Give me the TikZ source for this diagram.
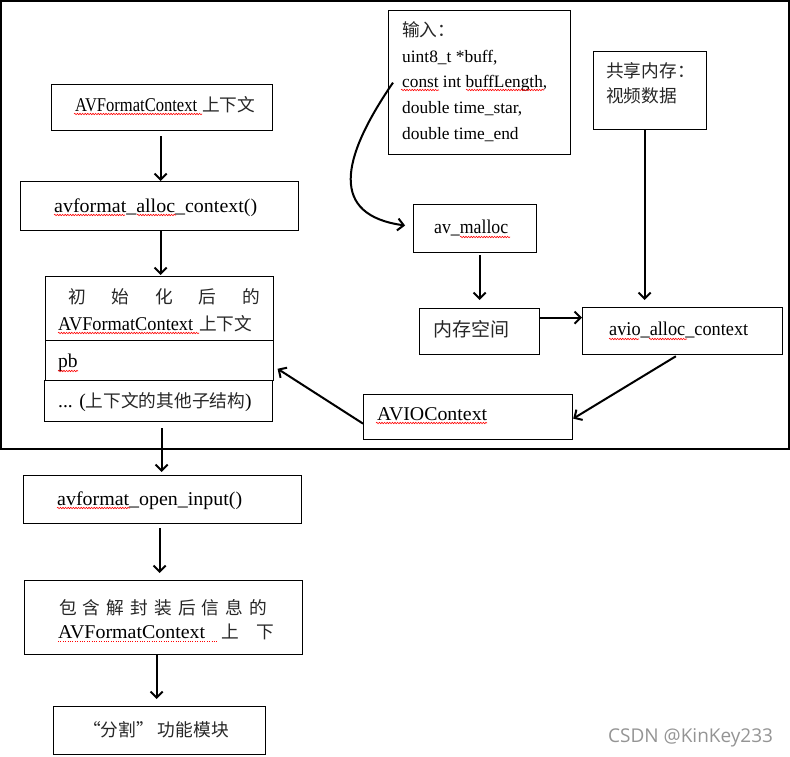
\documentclass[tikz,border=0pt]{standalone}
\usepackage{fontspec}
\usepackage{graphicx}
\setmainfont{Liberation Serif}
\newfontfamily\cjkf{Noto Sans CJK SC}
\newcommand\cjk{\cjkf\fontsize{17.7}{22}\selectfont\color{black!85}}
\newfontfamily\wmfont{Open Sans}
\usetikzlibrary{arrows.meta,decorations.pathmorphing,calc}
\newcommand\zh[1]{{\cjk #1}}
\newcommand\fw[2]{\resizebox{#1}{\height}{#2}}
\begin{document}
\begin{tikzpicture}[x=1pt,y=-1pt,
  box/.style={draw,line width=1.2pt,rectangle,inner sep=0pt,anchor=north west},
  txt/.style={inner sep=0pt,anchor=base west,font=\fontsize{19.5}{22}\selectfont},
  stxt/.style={inner sep=0pt,anchor=base west,font=\fontsize{17.4}{22}\selectfont},
  arr/.style={line width=2pt,-{Straight Barb[length=6pt,width=12pt]}},
  wavy/.style={draw=red,line width=0.6pt,decorate,decoration={snake,amplitude=0.7pt,segment length=2.6pt}},
  dotsred/.style={draw=red,line width=0.8pt,dash pattern=on 0.8pt off 1.6pt}]
\useasboundingbox (0,0) rectangle (790,756);
\draw[line width=1.2pt] (1,1) rectangle (789,449);
% left column
\node[box,minimum width=221pt,minimum height=46pt] (b1) at (51,84) {};
\node[box,minimum width=278pt,minimum height=49pt] (b2) at (20,181) {};
\node[box,minimum width=228pt,minimum height=64pt] (init) at (45,276) {};
\node[box,minimum width=228pt,minimum height=40pt] (pb) at (45,340) {};
\node[box,minimum width=228pt,minimum height=41pt] (dots) at (44,380) {};
\node[box,minimum width=278pt,minimum height=48pt] (open) at (23,475) {};
\node[box,minimum width=278pt,minimum height=74pt] (inc) at (24,580) {};
\node[box,minimum width=212pt,minimum height=48pt] (seg) at (53,706) {};
% right part
\node[box,minimum width=182pt,minimum height=144pt] (inp) at (388,10) {};
\node[box,minimum width=113pt,minimum height=78pt] (shm) at (593,51) {};
\node[box,minimum width=123pt,minimum height=48pt] (mal) at (413,204) {};
\node[box,minimum width=120pt,minimum height=46pt] (mem) at (419,308) {};
\node[box,minimum width=200pt,minimum height=47pt] (avio) at (582,307) {};
\node[box,minimum width=209pt,minimum height=45pt] (ioc) at (363,394) {};
% texts
\node[txt] (t1) at (75,111) {\fw{122pt}{AVFormatContext}\hspace{5pt}\zh{上下文}};
\node[txt] (t2) at (54,212) {\fw{203pt}{avformat\_alloc\_context()}};
\node[txt] (t3a) at (68,303) {\makebox[192pt][s]{\cjk 初\hfill 始\hfill 化\hfill 后\hfill 的}};
\node[txt] (t3b) at (58,330) {\fw{135pt}{AVFormatContext}\hspace{6pt}\zh{上下文}};
\node[txt] (t4) at (58,367) {pb};
\node[txt] (t5) at (58,407) {... (\zh{上下文的其他子结构})};
\node[txt] (t6) at (57,505) {\fw{185pt}{avformat\_open\_input()}};
\node[txt] (t7a) at (59,614) {\makebox[208pt][s]{\cjk 包\hfill 含\hfill 解\hfill 封\hfill 装\hfill 后\hfill 信\hfill 息\hfill 的}};
\node[txt] (t7b) at (58,638) {\makebox[216pt][l]{\fw{147pt}{AVFormatContext}\hfill\zh{上}\hspace{17pt}\zh{下}}};
\node[txt] (t8) at (83,736) {\cjk “分割”\hspace{4pt}功能模块};
\node[stxt] (i1) at (402,36) {\zh{输入：}};
\node[stxt] (i2) at (402,62) {uint8\_t *buff,};
\node[stxt] (i3) at (402,87) {\fw{145pt}{const int buffLength,}};
\node[stxt] (i4) at (402,113) {double time\_star,};
\node[stxt] (i5) at (402,139) {double time\_end};
\node[txt] (s1) at (606,77) {\zh{共享内存：}};
\node[txt] (s2) at (606,102) {\zh{视频数据}};
\node[txt] (tm) at (434,233) {\fw{74pt}{av\_malloc}};
\node[txt] (tme) at (433,336) {{\cjkf\fontsize{19}{22}\selectfont\color{black!85}内存空间}};
\node[txt] (tav) at (609,335) {\fw{139pt}{avio\_alloc\_context}};
\node[txt] (tio) at (377,420) {\fw{110pt}{AVIOContext}};
\node[inner sep=0pt,anchor=base west,text=black!42,font=\wmfont\fontsize{19}{22}\selectfont] (wm) at (608,742) {CSDN @KinKey233};
% spell-check squiggles
\draw[wavy] (74,114) -- (202,114);
\draw[wavy] (54,215) -- (125,215);
\draw[wavy] (137,215) -- (176,215);
\draw[wavy] (58,333) -- (199,333);
\draw[wavy] (58,371) -- (78,371);
\draw[wavy] (401,90) -- (439,90);
\draw[wavy] (466,90) -- (544,90);
\draw[wavy] (460,237) -- (510,237);
\draw[wavy] (609,339) -- (639,339);
\draw[wavy] (649,339) -- (687,339);
\draw[wavy] (376,423) -- (487,423);
\draw[wavy] (57,508) -- (130,508);
\draw[dotsred] (58,641) -- (218,641);
% arrows left
\draw[arr,shorten <=5pt] ([xshift=-1.5pt]b1.south) -- ([xshift=-1.5pt]b1.south |- b2.north);
\draw[arr,shorten >=1pt] ([xshift=1pt]b2.south) -- ([xshift=1pt]b2.south |- init.north);
\draw[arr,shorten <=6pt,shorten >=3pt] ([xshift=3pt]dots.south) -- ([xshift=3pt]dots.south |- open.north);
\draw[arr,shorten <=4pt,shorten >=7pt] ([xshift=-3pt]open.south) -- ([xshift=-3pt]open.south |- inc.north);
\draw[arr,shorten >=7pt] ([xshift=-7pt]inc.south) -- ([xshift=-7pt]inc.south |- seg.north);
% arrows right
\draw[arr,shorten <=2pt,shorten >=8pt] ([xshift=4.5pt]mal.south) -- ([xshift=4.5pt]mal.south |- mem.north);
\draw[arr,shorten >=7pt] ([xshift=-5.5pt]shm.south) -- ([xshift=-5.5pt]shm.south |- avio.north);
\draw[arr] ([yshift=14pt]mem.east) -- ([yshift=14pt]mem.east -| avio.west);
\draw[arr,shorten <=2pt] ([xshift=-5pt]avio.south) -- ([yshift=-1.5pt]ioc.east);
\draw[arr,shorten >=4pt] ([yshift=-6.5pt]ioc.west) -- ([yshift=-6pt]pb.east);
\draw[arr,shorten >=8pt] ([xshift=5pt]inp.west) .. controls (340,160) and (330,215) .. ([yshift=2pt]mal.west);
\end{tikzpicture}
\end{document}
